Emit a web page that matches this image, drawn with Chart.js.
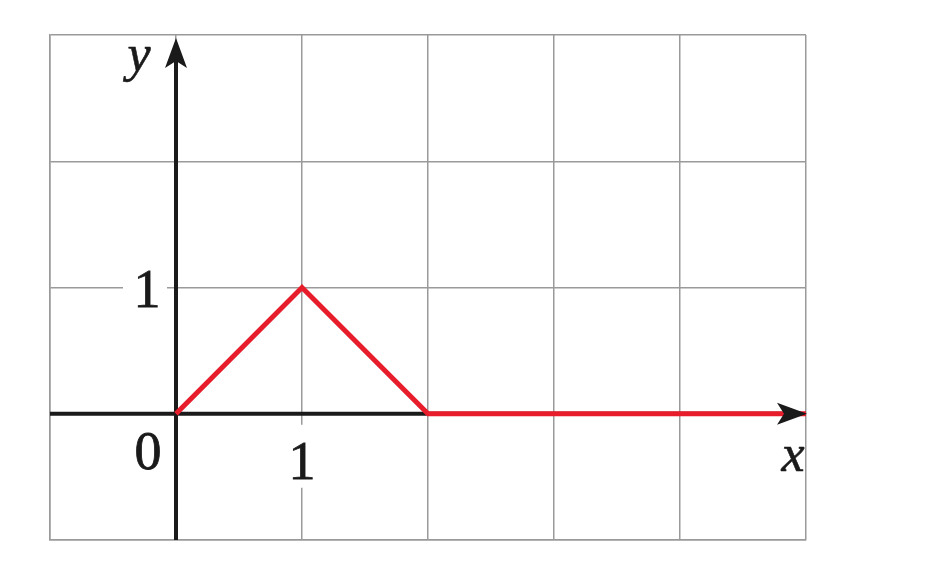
<!DOCTYPE html>
<html>
<head>
<meta charset="utf-8">
<script src="https://cdn.jsdelivr.net/npm/chart.js@4"></script>
<style>
  html, body { margin: 0; padding: 0; background: #fff; }
  #wrap { width: 941px; height: 577px; }
</style>
</head>
<body>
<div id="wrap"><canvas id="grafico"></canvas></div>
<script>
// dados do gráfico
const xs = [0, 1, 2, 5];
const ys = [0, 1, 0, 0];
const xTicks = [1];
const yTicks = [1];
const xRange = [-1, 5];
const yRange = [-1, 3];

const vermelho = '#e81d2b';
const preto = '#1a1a1a';
const fonteNum = '54px "Liberation Serif", "Times New Roman", serif';
const fonteVar = 'italic 52px "Liberation Serif", "Times New Roman", serif';

// ponta de seta (estilo "stealth")
function seta(ctx, x, y, ang) {
    ctx.save();
    ctx.translate(x, y);
    ctx.rotate(ang);
    ctx.beginPath();
    ctx.moveTo(0, 0);
    ctx.lineTo(-30, -11);
    ctx.lineTo(-23, 0);
    ctx.lineTo(-30, 11);
    ctx.closePath();
    ctx.fillStyle = preto;
    ctx.fill();
    ctx.restore();
}

// texto um pouco mais encorpado
function texto(ctx, s, x, y) {
    ctx.fillText(s, x, y);
    ctx.strokeText(s, x, y);
}

const eixosPlugin = {
    id: 'eixos',
    beforeDatasetsDraw(chart) {
        const ctx = chart.ctx;
        const sx = chart.scales.x, sy = chart.scales.y;
        const x0 = sx.getPixelForValue(0), y0 = sy.getPixelForValue(0);
        ctx.save();
        ctx.strokeStyle = preto;
        ctx.lineWidth = 4;
        ctx.beginPath();
        ctx.moveTo(sx.left, y0);
        ctx.lineTo(sx.right - 20, y0);
        ctx.moveTo(x0, sy.bottom);
        ctx.lineTo(x0, sy.top + 22);
        ctx.stroke();

        // rótulos com fundo branco
        ctx.textAlign = 'center';
        ctx.textBaseline = 'alphabetic';
        ctx.font = fonteNum;
        ctx.lineWidth = 0.8;
        yTicks.forEach(v => {
            const py = sy.getPixelForValue(v);
            ctx.fillStyle = '#fff';
            ctx.fillRect(x0 - 53, py - 6, 44, 12);
            ctx.fillStyle = preto;
            texto(ctx, String(v), x0 - 29, py + 19);
        });
        xTicks.forEach(v => {
            const px = sx.getPixelForValue(v);
            ctx.fillStyle = '#fff';
            ctx.fillRect(px - 6, y0 + 11, 12, 63);
            ctx.fillStyle = preto;
            texto(ctx, String(v), px, y0 + 65);
        });
        texto(ctx, '0', x0 - 28, y0 + 55);
        ctx.restore();
    },
    afterDatasetsDraw(chart) {
        const ctx = chart.ctx;
        const sx = chart.scales.x, sy = chart.scales.y;
        const x0 = sx.getPixelForValue(0), y0 = sy.getPixelForValue(0);
        seta(ctx, sx.right + 1, y0, 0);
        seta(ctx, x0, sy.top + 3, -Math.PI / 2);
        ctx.save();
        ctx.font = fonteVar;
        ctx.fillStyle = preto;
        ctx.strokeStyle = preto;
        ctx.lineWidth = 0.6;
        ctx.textAlign = 'center';
        ctx.textBaseline = 'alphabetic';
        texto(ctx, 'y', x0 - 37, sy.top + 36);
        texto(ctx, 'x', sx.right - 13, y0 + 57);
        ctx.restore();
    }
};

new Chart(document.getElementById('grafico'), {
    type: 'scatter',
    data: {
        datasets: [{
            data: xs.map((x, i) => ({ x: x, y: ys[i] })),
            showLine: true,
            borderColor: vermelho,
            borderWidth: 5,
            pointRadius: 0,
            tension: 0
        }]
    },
    options: {
        responsive: true,
        maintainAspectRatio: false,
        animation: false,
        layout: { padding: { left: 50, right: 135, top: 35, bottom: 37 } },
        plugins: { legend: { display: false }, tooltip: { enabled: false } },
        scales: {
            x: {
                type: 'linear', min: xRange[0], max: xRange[1],
                ticks: { display: false, stepSize: 1 },
                grid: { color: '#9a9a9a', lineWidth: 1.5, drawTicks: false },
                border: { display: true, color: '#9a9a9a', width: 1.5 }
            },
            y: {
                type: 'linear', min: yRange[0], max: yRange[1],
                ticks: { display: false, stepSize: 1 },
                grid: { color: '#9a9a9a', lineWidth: 1.5, drawTicks: false },
                border: { display: true, color: '#9a9a9a', width: 1.5 }
            }
        }
    },
    plugins: [eixosPlugin]
});
</script>
</body>
</html>
